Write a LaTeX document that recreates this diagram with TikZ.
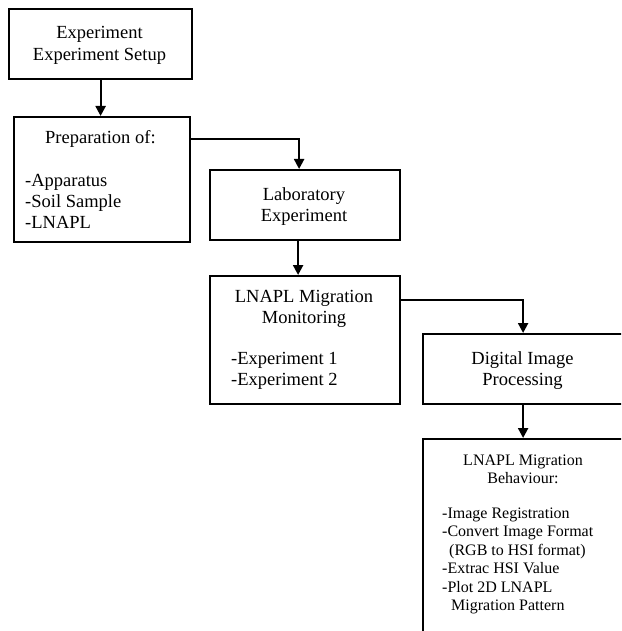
\documentclass[tikz,border=0pt]{standalone}
\usepackage{fontspec}
\setmainfont{Liberation Serif}
\usetikzlibrary{arrows.meta}
\tikzset{
  x=1pt, y=-1pt,
  box/.style={draw, line width=2.2pt, rectangle, inner sep=0pt, anchor=north west},
  txt/.style={inner sep=0pt, font=\fontsize{18.5}{21.5}\selectfont},
  stxt/.style={inner sep=0pt, font=\fontsize{16}{18.5}\selectfont},
  arr/.style={line width=2.2pt, -{Triangle[width=10pt,length=10pt]}},
}
\begin{document}
\begin{tikzpicture}
\clip (0,0) rectangle (621,631);
\fill[white] (0,0) rectangle (621,631);
% boxes
\node[box, minimum width=183pt, minimum height=70pt] (b1) at (8,8) {};
\node[box, minimum width=176pt, minimum height=125pt] (b2) at (13,116) {};
\node[box, minimum width=190pt, minimum height=70pt] (b3) at (209,169) {};
\node[box, minimum width=190pt, minimum height=128pt] (b4) at (209,275) {};
\node[box, minimum width=200pt, minimum height=70pt] (dig) at (422,333) {};
\node[box, minimum width=200pt, minimum height=230pt] (last) at (422,438) {};
% texts
\node[txt, anchor=base] (t1a) at (99.5,39) {Experiment};
\node[txt, anchor=base] (t1b) at (99.5,61) {Experiment Setup};
\node[txt, anchor=base west] (t2a) at (45,144) {Preparation of:};
\node[txt, anchor=base west] (t2b) at (25,186) {-Apparatus};
\node[txt, anchor=base west] (t2c) at (25,207) {-Soil Sample};
\node[txt, anchor=base west] (t2d) at (25,228) {-LNAPL};
\node[txt, anchor=base] (t3a) at (304,200) {Laboratory};
\node[txt, anchor=base] (t3b) at (304,221) {Experiment};
\node[txt, anchor=base] (t4a) at (304,302) {LNAPL Migration};
\node[txt, anchor=base] (t4b) at (304,323) {Monitoring};
\node[txt, anchor=base west] (t4c) at (231,364) {-Experiment 1};
\node[txt, anchor=base west] (t4d) at (231,385) {-Experiment 2};
\node[txt, anchor=base] (t5a) at (522.5,364) {Digital Image};
\node[txt, anchor=base] (t5b) at (522.5,385) {Processing};
\node[stxt, anchor=base] (t6a) at (523,465) {LNAPL Migration};
\node[stxt, anchor=base] (t6b) at (523,483.5) {Behaviour:};
\node[stxt, anchor=base west] (t6c) at (442,518) {-Image Registration};
\node[stxt, anchor=base west] (t6d) at (442,536.5) {-Convert Image Format};
\node[stxt, anchor=base west] (t6e) at (449,555) {(RGB to HSI format)};
\node[stxt, anchor=base west] (t6f) at (442,573.5) {-Extrac HSI Value};
\node[stxt, anchor=base west] (t6g) at (442,592) {-Plot 2D LNAPL};
\node[stxt, anchor=base west] (t6h) at (451,610.5) {Migration Pattern};
% connectors
\draw[arr] (b1.south) -- (b1.south |- b2.north);
\draw[arr] ([yshift=-23pt]b2.north east) -| ([xshift=-6pt]b3.north);
\draw[arr] ([xshift=-7pt]b3.south) -- ([xshift=-7pt]b4.north);
\draw[arr] ([yshift=-25pt]b4.north east) -| (dig.north);
\draw[arr] (dig.south) -- (last.north);
\end{tikzpicture}
\end{document}
